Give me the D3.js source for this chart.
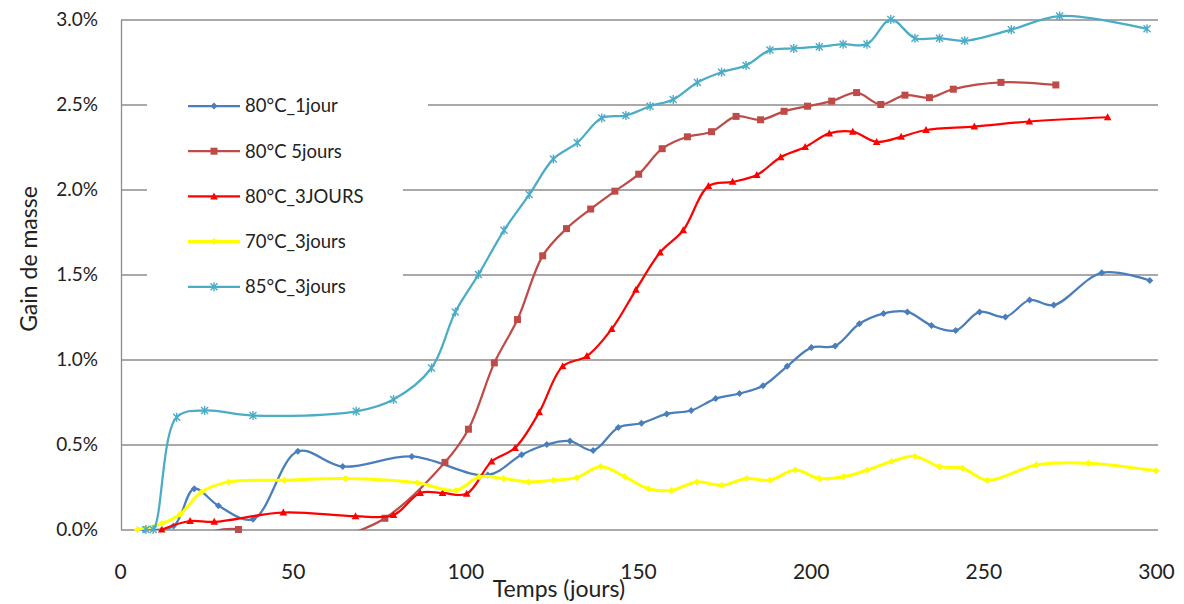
<!DOCTYPE html>
<html>
<head>
<meta charset="utf-8">
<script src="https://cdn.jsdelivr.net/npm/d3@7"></script>
<style>
  body { margin: 0; background: #fff; }
  svg { display: block; font-family: Lato, "Open Sans", sans-serif; }
</style>
</head>
<body>
<svg id="chart" width="1184" height="604"></svg>
<script>
// Gain de masse (%) vs temps (jours), one pair of arrays per series
var seriesNames = ["80°C_1jour", "80°C 5jours", "80°C_3JOURS", "70°C_3jours", "85°C_3jours"];

var days1 = [7, 15.5, 21.5, 28.5, 38.5, 51.5, 64.5, 84.5, 106.5, 116.3, 123.6, 130.3, 137, 144.3, 151, 158.3, 165.4, 172.5, 179.4, 186.2, 193.2, 200.2, 207.1, 214.1, 221.1, 228, 235, 242, 248.9, 256.4, 263.4, 270.4, 284.3, 298.2];
var gain1 = [0, 0.02, 0.24, 0.14, 0.06, 0.46, 0.37, 0.43, 0.32, 0.44, 0.50, 0.52, 0.465, 0.60, 0.625, 0.68, 0.70, 0.77, 0.80, 0.845, 0.96, 1.07, 1.08, 1.21, 1.27, 1.28, 1.20, 1.17, 1.28, 1.25, 1.35, 1.32, 1.51, 1.465];

var days2 = [27, 34.3, 48, 62, 76.7, 94.1, 100.9, 108.4, 115.1, 122.4, 129.3, 136.3, 143.3, 150.2, 157, 164.3, 171.3, 178.4, 185.5, 192.3, 199.1, 206.1, 213.3, 220.3, 227.3, 234.4, 241.3, 255.1, 271];
var gain2 = [-0.01, 0, -0.15, -0.06, 0.066, 0.395, 0.59, 0.98, 1.235, 1.61, 1.77, 1.885, 1.99, 2.09, 2.24, 2.31, 2.34, 2.43, 2.41, 2.46, 2.49, 2.52, 2.57, 2.50, 2.555, 2.54, 2.59, 2.63, 2.615];

var days3 = [12.1, 20.3, 27.3, 47.3, 68.2, 79.2, 86.9, 93.4, 100.4, 107.6, 114.4, 121.4, 128.2, 135.2, 142.4, 149.4, 156.4, 163.1, 170.4, 177.4, 184.4, 191.3, 198.4, 205.4, 212.2, 219.1, 226.2, 233.4, 247.4, 263.3, 286];
var gain3 = [0, 0.05, 0.045, 0.10, 0.078, 0.085, 0.215, 0.215, 0.21, 0.40, 0.48, 0.69, 0.96, 1.02, 1.18, 1.41, 1.63, 1.76, 2.02, 2.045, 2.085, 2.19, 2.25, 2.33, 2.34, 2.28, 2.31, 2.35, 2.37, 2.40, 2.425];

var days4 = [5, 12.1, 17.4, 23.6, 31.4, 47.5, 65.3, 86, 97.3, 104, 111, 118.3, 125.5, 132.2, 139.2, 146.2, 153, 159.7, 167, 174.2, 181.5, 188.2, 195.5, 202.5, 209.5, 216.4, 223.4, 230.2, 237.3, 244, 251.2, 265.3, 280.4, 300];
var gain4 = [0, 0.035, 0.09, 0.22, 0.28, 0.29, 0.30, 0.275, 0.23, 0.31, 0.30, 0.28, 0.29, 0.305, 0.37, 0.31, 0.24, 0.23, 0.28, 0.26, 0.30, 0.29, 0.35, 0.30, 0.31, 0.35, 0.40, 0.43, 0.37, 0.36, 0.29, 0.38, 0.39, 0.345];

var days5 = [7.5, 9.6, 16.4, 24.5, 38.5, 68.4, 79.2, 90.2, 97.1, 103.8, 111.2, 118.5, 125.5, 132.4, 139.5, 146.5, 153.5, 160.2, 167.2, 174.2, 181.3, 188.2, 195.1, 202.5, 209.4, 216.3, 223.2, 230.2, 237.3, 244.6, 258.1, 272.1, 297.4];
var gain5 = [0, 0, 0.66, 0.70, 0.67, 0.695, 0.765, 0.95, 1.28, 1.50, 1.76, 1.97, 2.18, 2.275, 2.42, 2.435, 2.49, 2.53, 2.63, 2.69, 2.73, 2.82, 2.83, 2.84, 2.855, 2.855, 3.0, 2.89, 2.89, 2.875, 2.94, 3.02, 2.945];

var xTicks = [0, 50, 100, 150, 200, 250, 300];
var yTicks = [0, 0.5, 1.0, 1.5, 2.0, 2.5, 3.0];

var allDays = [days1, days2, days3, days4, days5];
var allGains = [gain1, gain2, gain3, gain4, gain5];

//Colors and marker shapes match the Excel default look
var colors = ["#4A7EBB", "#BE4B48", "#FF0000", "#FFFF00", "#4BACC6"];
var markers = ["diamond", "square", "triangle", "diamond", "star"];
var widths = [2.25, 2.25, 2.25, 3, 2.25];

var svg = d3.select("#chart");
var plotLeft = 120, plotRight = 1156, plotTop = 19.5, plotBottom = 529.5;

var x = d3.scaleLinear().domain([0, 300]).range([plotLeft, plotRight]);
var y = d3.scaleLinear().domain([0, 3]).range([plotBottom, plotTop]);

//Gridlines + y labels
var yAxis = svg.append("g")
    .attr("transform", "translate(" + (plotLeft + 1) + ",0)")
    .call(d3.axisLeft(y)
        .tickValues(yTicks)
        .tickSize(-(plotRight - plotLeft + 1))
        .tickSizeOuter(0)
        .tickPadding(23)
        .tickFormat(function (d) { return d.toFixed(1) + "%"; }));
yAxis.select(".domain").attr("stroke", "#8c8c8c").attr("stroke-width", 1.3);
yAxis.selectAll(".tick line").attr("stroke", "#8c8c8c").attr("stroke-width", 1.3);
yAxis.selectAll(".tick text")
    .attr("font-size", "19px")
    .attr("font-family", "Lato")
    .attr("fill", "#222");

var xAxis = svg.append("g")
    .attr("transform", "translate(0," + plotBottom + ")")
    .call(d3.axisBottom(x)
        .tickValues(xTicks)
        .tickSize(0)
        .tickPadding(35));
xAxis.select(".domain").remove();
xAxis.selectAll(".tick text")
    .attr("font-size", "21px")
    .attr("font-family", "Lato")
    .attr("fill", "#222");

svg.append("text")
    .attr("x", 559)
    .attr("y", 597)
    .attr("text-anchor", "middle")
    .attr("font-size", "23px")
    .attr("fill", "#222")
    .text("Temps (jours)");

svg.append("text")
    .attr("transform", "translate(37,259) rotate(-90)")
    .attr("text-anchor", "middle")
    .attr("font-size", "23px")
    .attr("fill", "#222")
    .text("Gain de masse");

//Lines are clipped at the axis, so values below 0 vanish like in Excel
svg.append("clipPath")
    .attr("id", "plot-clip")
    .append("rect")
    .attr("x", plotLeft)
    .attr("y", 5)
    .attr("width", plotRight - plotLeft + 10)
    .attr("height", plotBottom - 5 + 0.5);

var line = d3.line()
    .x(function (d) { return x(d[0]); })
    .y(function (d) { return y(d[1]); })
    .curve(d3.curveCatmullRom.alpha(0.5));

function drawMarker(g, shape, color, cx, cy) {
    if (shape == "diamond") {
        g.append("path")
            .attr("d", "M" + cx + "," + (cy - 3.5) + "L" + (cx + 3.5) + "," + cy + "L" + cx + "," + (cy + 3.5) + "L" + (cx - 3.5) + "," + cy + "Z")
            .attr("fill", color);
    } else if (shape == "square") {
        g.append("rect")
            .attr("x", cx - 3.5).attr("y", cy - 3.5)
            .attr("width", 7).attr("height", 7)
            .attr("fill", color);
    } else if (shape == "triangle") {
        g.append("path")
            .attr("d", "M" + cx + "," + (cy - 4) + "L" + (cx + 3.8) + "," + (cy + 3) + "L" + (cx - 3.8) + "," + (cy + 3) + "Z")
            .attr("fill", color);
    } else {
        g.append("path")
            .attr("d", "M" + (cx - 3.5) + "," + (cy - 3.5) + "L" + (cx + 3.5) + "," + (cy + 3.5) +
                "M" + (cx + 3.5) + "," + (cy - 3.5) + "L" + (cx - 3.5) + "," + (cy + 3.5) +
                "M" + cx + "," + (cy - 4.5) + "L" + cx + "," + (cy + 4.5))
            .attr("stroke", color)
            .attr("stroke-width", 1.4)
            .attr("fill", "none");
    }
}

var seriesLayer = svg.append("g");
allDays.forEach(function (days, i) {
    var pts = days.map(function (d, k) { return [d, allGains[i][k]]; });
    var g = seriesLayer.append("g").attr("id", "series" + i);
    g.append("path")
        .datum(pts)
        .attr("d", line)
        .attr("clip-path", "url(#plot-clip)")
        .attr("fill", "none")
        .attr("stroke", colors[i])
        .attr("stroke-width", widths[i])
        .attr("stroke-linejoin", "round");
    pts.forEach(function (p) {
        if (p[1] >= 0) drawMarker(g, markers[i], colors[i], x(p[0]), y(p[1]));
    });
});

//Legend sits on a white box over the gridlines
var legend = svg.append("g");
legend.append("rect")
    .attr("x", 147).attr("y", 86)
    .attr("width", 256).attr("height", 218)
    .attr("fill", "#fff");
legend.append("rect")
    .attr("x", 403).attr("y", 99)
    .attr("width", 25).attr("height", 12)
    .attr("fill", "#fff");

seriesNames.forEach(function (name, i) {
    var ly = 106 + i * 45.2;
    legend.append("line")
        .attr("x1", 188).attr("x2", 240)
        .attr("y1", ly).attr("y2", ly)
        .attr("stroke", colors[i])
        .attr("stroke-width", widths[i]);
    drawMarker(legend, markers[i], colors[i], 214, ly);
    legend.append("text")
        .attr("x", 245)
        .attr("y", ly)
        .attr("dy", "0.35em")
        .attr("font-size", "18.5px")
        .attr("fill", "#222")
        .text(name);
});
</script>
</body>
</html>
